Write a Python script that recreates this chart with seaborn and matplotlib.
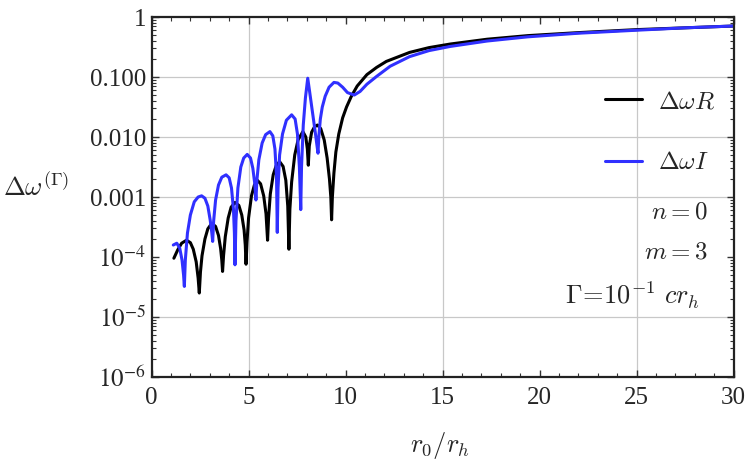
import numpy as np
import pandas as pd
import seaborn as sns
import matplotlib
matplotlib.use("Agg")
import matplotlib.pyplot as plt
from matplotlib.ticker import LogLocator, NullFormatter, MultipleLocator

# valores (x = r0/rh, y = log10 de delta omega)
x_real = [1.15, 1.35, 1.55, 1.8, 2.0, 2.15, 2.3, 2.4, 2.46,
          2.52, 2.6, 2.75, 2.9, 3.1, 3.3, 3.45, 3.56, 3.62, 3.66,
          3.71, 3.8, 3.95, 4.1, 4.3, 4.5, 4.65, 4.77, 4.83, 4.87,
          4.92, 5.0, 5.15, 5.3, 5.45, 5.62, 5.78, 5.9, 5.98,
          6.03, 6.12, 6.27, 6.42, 6.6, 6.78, 6.92, 7.02, 7.08,
          7.13, 7.22, 7.38, 7.55, 7.8, 7.95, 8.03, 8.08,
          8.13, 8.25, 8.4, 8.55, 8.72, 8.9, 9.05, 9.17, 9.24, 9.28,
          9.32, 9.4, 9.5, 9.65, 9.85, 10.05, 10.3, 10.6, 11.1, 11.6,
          12.1, 13.3, 14.3, 15.4, 17.3, 19.4, 22.0, 25.0, 27.5, 30.0]
logy_real = [-4.02, -3.88, -3.77, -3.72, -3.76, -3.87, -4.08, -4.35, -4.6,
             -4.25, -3.98, -3.70, -3.53, -3.44, -3.49, -3.64, -3.86, -4.05, -4.24,
             -3.98, -3.66, -3.35, -3.17, -3.09, -3.14, -3.30, -3.55, -3.80, -4.12,
             -3.75, -3.35, -2.98, -2.80, -2.72, -2.78, -2.98, -3.28, -3.72,
             -3.35, -2.95, -2.63, -2.48, -2.41, -2.49, -2.72, -3.15, -3.87,
             -3.2, -2.75, -2.3, -2.05, -1.91, -2.0, -2.2, -2.47,
             -2.15, -1.92, -1.83, -1.80, -1.86, -2.05, -2.35, -2.7, -3.0, -3.38,
             -3.0, -2.6, -2.25, -1.95, -1.68, -1.5, -1.32, -1.15, -0.96, -0.84,
             -0.74, -0.59, -0.51, -0.45, -0.37, -0.31, -0.26, -0.21, -0.18, -0.15]

x_imag = [1.12, 1.3, 1.45, 1.57, 1.65, 1.69,
          1.74, 1.85, 2.0, 2.2, 2.4, 2.58, 2.75, 2.9, 3.02, 3.1, 3.15,
          3.2, 3.3, 3.45, 3.62, 3.84, 4.0, 4.12, 4.22, 4.27, 4.30,
          4.35, 4.45, 4.6, 4.75, 4.93, 5.1, 5.22, 5.32, 5.38,
          5.43, 5.53, 5.7, 5.88, 6.1, 6.25, 6.36, 6.44, 6.48,
          6.52, 6.6, 6.75, 6.95, 7.22, 7.4, 7.52, 7.62, 7.69,
          7.73, 7.82, 7.93, 8.05, 8.15, 8.3, 8.45, 8.53, 8.58,
          8.62, 8.7, 8.8, 8.95, 9.15, 9.4, 9.6, 9.85, 10.1, 10.45,
          10.75, 11.1, 11.6, 12.3, 13.3, 14.3, 15.4, 17.3, 19.4, 22.0,
          25.0, 27.5, 30.0]
logy_imag = [-3.80, -3.77, -3.85, -4.05, -4.3, -4.49,
             -4.05, -3.6, -3.3, -3.08, -3.0, -2.98, -3.02, -3.15, -3.38, -3.58, -3.74,
             -3.4, -3.05, -2.8, -2.67, -2.63, -2.68, -2.85, -3.2, -3.6, -4.13,
             -3.4, -2.85, -2.5, -2.35, -2.29, -2.35, -2.52, -2.78, -3.05,
             -2.72, -2.38, -2.1, -1.96, -1.91, -1.98, -2.2, -2.65, -3.59,
             -2.85, -2.3, -1.95, -1.72, -1.63, -1.7, -1.95, -2.5, -3.21,
             -2.5, -1.8, -1.35, -1.02, -1.25, -1.6, -1.95, -2.15, -2.27,
             -2.0, -1.7, -1.5, -1.32, -1.17, -1.09, -1.1, -1.17, -1.26, -1.30,
             -1.24, -1.12, -0.99, -0.82, -0.66, -0.56, -0.49, -0.40, -0.33, -0.27,
             -0.22, -0.18, -0.15]

xticks = [0, 5, 10, 15, 20, 25, 30]
yticks = [1e-6, 1e-5, 1e-4, 1e-3, 1e-2, 1e-1, 1]
ytick_labels = [r"$10^{-6}$", r"$10^{-5}$", r"$10^{-4}$", "0.001", "0.010", "0.100", "1"]
grid_y = [1e-5, 1e-3, 1e-2, 1e-1]
grid_x = [5, 15, 25]

datos_r = pd.DataFrame({"x": x_real, "y": 10.0 ** np.array(logy_real)})
datos_i = pd.DataFrame({"x": x_imag, "y": 10.0 ** np.array(logy_imag)})

sns.set_style("ticks")
plt.rcParams['font.family'] = ['Liberation Serif', 'DejaVu Serif']
plt.rcParams['mathtext.fontset'] = 'cm'

fig = plt.figure(figsize=(7.47, 4.65), dpi=100)
ax = fig.add_axes([0.2029, 0.1892, 0.7791, 0.7742])

sns.lineplot(data=datos_r, x="x", y="y", color="black", lw=2.2, estimator=None,
             sort=False, label=r"$\Delta\omega R$", ax=ax)
sns.lineplot(data=datos_i, x="x", y="y", color="#3030ff", lw=2.2, estimator=None,
             sort=False, label=r"$\Delta\omega I$", ax=ax)

ax.set_yscale("log")
ax.set_xlim(0, 30)
ax.set_ylim(1e-6, 1)

for g in grid_y:
    ax.axhline(g, color="#c8c8c8", lw=0.9, zorder=0)
for g in grid_x:
    ax.axvline(g, color="#c8c8c8", lw=0.9, zorder=0)

ax.set_xticks(xticks)
ax.set_xticklabels([str(t) for t in xticks])
ax.xaxis.set_minor_locator(MultipleLocator(1))
ax.set_yticks(yticks)
ax.set_yticklabels(ytick_labels)
ax.yaxis.set_minor_locator(LogLocator(base=10, subs=np.arange(2, 10)))
ax.yaxis.set_minor_formatter(NullFormatter())
for lbl in ax.get_yticklabels() + ax.get_xticklabels():
    lbl.set_math_fontfamily('stix')
    lbl.set_fontsize(18)

ax.tick_params(which="both", direction="in", top=True, right=True, color="#333333")
ax.tick_params(axis="y", which="major", length=5, width=1.0, pad=4)
ax.tick_params(axis="x", which="major", length=5, width=1.0, pad=7)
ax.tick_params(which="minor", length=3, width=0.8)
for s in ax.spines.values():
    s.set_linewidth(1.6)
    s.set_color("#222222")

ax.set_xlabel("")
ax.set_ylabel("")
fig.text(0.589, 0.043, r"$r_0/r_h$", fontsize=19, ha="center", va="center")
fig.text(0.049, 0.598, r"$\Delta\omega^{(\Gamma)}$", fontsize=19, ha="center", va="center")

leg = ax.legend(loc="upper right", bbox_to_anchor=(1.008, 0.858), frameon=False,
                fontsize=18, handlelength=1.5, handletextpad=0.65, labelspacing=1.55)
for t in leg.get_texts():
    t.set_math_fontfamily('cm')
for h in leg.get_lines():
    h.set_linewidth(2.2)

ax.text(0.955, 0.456, r"$n=0$", transform=ax.transAxes, ha="right", va="center", fontsize=18)
ax.text(0.955, 0.345, r"$m=3$", transform=ax.transAxes, ha="right", va="center", fontsize=18)
ax.text(0.942, 0.228, r"$\Gamma\!=\!10^{-1}\ cr_h$", transform=ax.transAxes,
        ha="right", va="center", fontsize=19)

plt.savefig("out.png", dpi=100)
